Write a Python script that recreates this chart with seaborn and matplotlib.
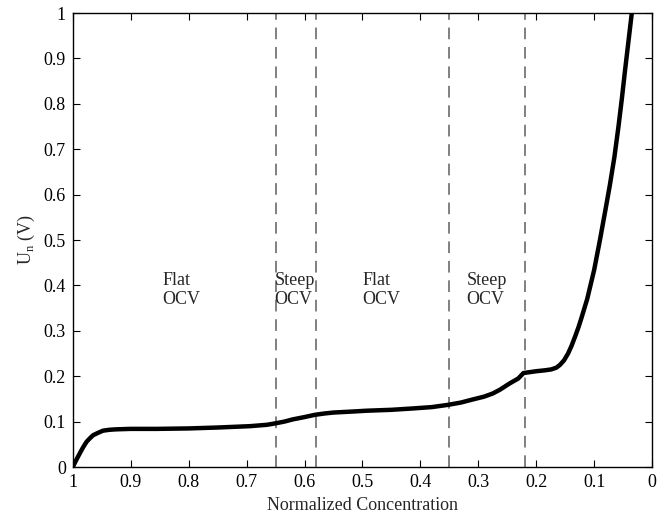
import matplotlib
matplotlib.use("Agg")
import matplotlib.pyplot as plt
import seaborn as sns
import pandas as pd

# Data
conc = [1.0, 0.997, 0.993, 0.988, 0.982, 0.976, 0.97, 0.965, 0.957, 0.948, 0.937,
        0.925, 0.9, 0.855, 0.8, 0.75, 0.694, 0.665, 0.651, 0.635, 0.62, 0.6, 0.582,
        0.565, 0.55, 0.52, 0.493, 0.45, 0.413, 0.38, 0.352, 0.33, 0.309, 0.29,
        0.275, 0.263, 0.246, 0.231, 0.222, 0.2, 0.185, 0.174, 0.165, 0.159, 0.152,
        0.145, 0.139, 0.133, 0.127, 0.122, 0.112, 0.1, 0.09, 0.08, 0.073, 0.065,
        0.058, 0.052, 0.047, 0.041, 0.035]
un = [0.0, 0.008, 0.018, 0.030, 0.044, 0.056, 0.064, 0.070, 0.075, 0.080, 0.082,
      0.083, 0.084, 0.084, 0.085, 0.087, 0.090, 0.093, 0.096, 0.100, 0.105, 0.110, 0.115,
      0.118, 0.120, 0.122, 0.124, 0.126, 0.129, 0.132, 0.137, 0.142, 0.149, 0.155,
      0.162, 0.170, 0.184, 0.195, 0.207, 0.211, 0.213, 0.215, 0.219, 0.225, 0.235,
      0.250, 0.267, 0.287, 0.308, 0.328, 0.370, 0.434, 0.500, 0.570, 0.620, 0.683,
      0.750, 0.813, 0.870, 0.935, 1.0]
boundaries = [0.65, 0.58, 0.35, 0.22]
region_labels = ["Flat\nOCV", "Steep\nOCV", "Flat\nOCV", "Steep\nOCV"]
label_x = [0.845, 0.652, 0.5, 0.32]
label_y = 0.39
xticks = [1, 0.9, 0.8, 0.7, 0.6, 0.5, 0.4, 0.3, 0.2, 0.1, 0]
yticks = [0, 0.1, 0.2, 0.3, 0.4, 0.5, 0.6, 0.7, 0.8, 0.9, 1]

sns.set_style("ticks")
plt.rcParams['font.family'] = ['Liberation Serif', 'DejaVu Serif']
plt.rcParams['mathtext.fontset'] = 'custom'
plt.rcParams['mathtext.rm'] = 'Liberation Serif'

fig = plt.figure(figsize=(6.62, 5.14), dpi=100)
ax = fig.add_axes([0.110, 0.0914, 0.875, 0.8833])

df = pd.DataFrame({"conc": conc, "un": un})
sns.lineplot(data=df, x="conc", y="un", sort=False, estimator=None,
             color="black", linewidth=3.2, ax=ax)
ax.lines[0].set_solid_joinstyle("round")
ax.lines[0].set_solid_capstyle("round")

for b in boundaries:
    ax.axvline(b, color="#808080", linestyle=(0, (6, 4)), linewidth=1.4, zorder=1)

for lx, lab in zip(label_x, region_labels):
    ax.text(lx, label_y, lab, ha="left", va="center", fontsize=13,
            linespacing=1.1)

ax.set_xlim(1, 0)
ax.set_ylim(0, 1)
ax.set_xticks(xticks)
ax.set_xticklabels([f"{t:g}" for t in xticks])
ax.set_yticks(yticks)
ax.set_yticklabels([f"{t:g}" for t in yticks])
ax.tick_params(direction="in", top=True, right=True, labelsize=13, length=5,
               width=0.8, colors="black", pad=5)
for s in ax.spines.values():
    s.set_visible(True)
    s.set_linewidth(1.0)
    s.set_color("black")
ax.set_xlabel("Normalized Concentration", fontsize=13, labelpad=4)
ax.set_ylabel(r"U$_\mathregular{n}$ (V)", fontsize=13, labelpad=5)

fig.savefig("out.png", dpi=100)
